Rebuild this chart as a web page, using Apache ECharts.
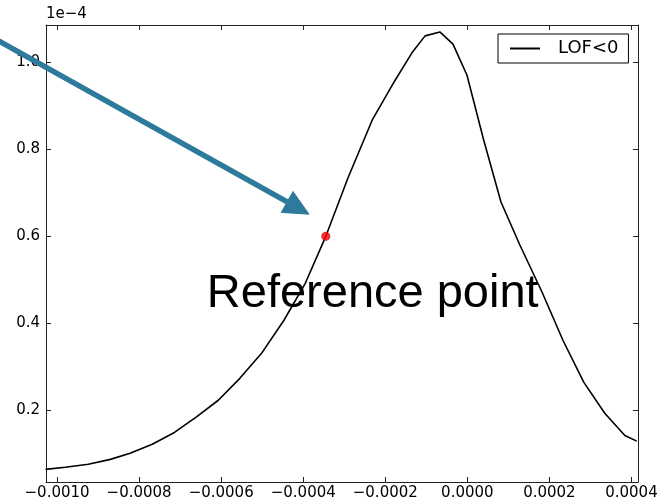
<!DOCTYPE html>
<html>
<head>
<meta charset="utf-8">
<script src="https://cdn.jsdelivr.net/npm/echarts@6/dist/echarts.min.js"></script>
<style>
  html, body { margin: 0; padding: 0; background: #fff; }
  #chart { width: 663px; height: 502px; }
</style>
</head>
<body>
<div id="chart"></div>
<script>
// Density curve (y in units of 1e-4)
const curveX = [-0.001028, -0.00098, -0.000924, -0.00087, -0.000822, -0.000768, -0.000714,
  -0.000661, -0.000607, -0.000554, -0.0005, -0.000447, -0.000395, -0.000345, -0.000291,
  -0.000232, -0.000176, -0.000135, -0.000103, -0.000067, -0.000035, -0.000001, 0.00004,
  0.000082, 0.000128, 0.000182, 0.000233, 0.000284, 0.000335, 0.000384, 0.000413];
const curveY = [0.064, 0.069, 0.076, 0.087, 0.101, 0.122, 0.149,
  0.184, 0.223, 0.274, 0.333, 0.407, 0.492, 0.6, 0.734,
  0.867, 0.959, 1.022, 1.061, 1.07, 1.042, 0.971, 0.821,
  0.679, 0.58, 0.472, 0.361, 0.264, 0.193, 0.142, 0.129];

const refPoint = [-0.000345, 0.6];
const seriesName = 'LOF<0';
const noteText = 'Reference point';
const noteAnchor = [-0.000635, 0.43];
const arrowTail = [-0.001162, 1.06];
const arrowTip = [-0.000386, 0.651];
const offsetText = '1e\u22124';

const xTicks = [-0.0010, -0.0008, -0.0006, -0.0004, -0.0002, 0.0000, 0.0002, 0.0004];
const yTicks = [0.2, 0.4, 0.6, 0.8, 1.0];
const xRange = [-0.001027, 0.000416];
const yRange = [0.035, 1.086];

const AXIS_COLOR = '#222';
const FONT = 'DejaVu Sans';

function fmtX(v) {
  return (v < 0 ? '\u2212' : '') + Math.abs(v).toFixed(4);
}

function xAxisCfg(pos, labels) {
  return {
    type: 'value', position: pos, min: xRange[0], max: xRange[1],
    axisLine: { onZero: false, lineStyle: { color: AXIS_COLOR, width: 1 } },
    axisTick: { inside: true, length: 5, customValues: xTicks, lineStyle: { color: AXIS_COLOR } },
    axisLabel: labels ? { customValues: xTicks, formatter: fmtX, color: '#000',
      fontFamily: FONT, fontSize: 15, margin: 4 } : { show: false },
    splitLine: { show: false }
  };
}
function yAxisCfg(pos, labels) {
  return {
    type: 'value', position: pos, min: yRange[0], max: yRange[1],
    axisLine: { onZero: false, lineStyle: { color: AXIS_COLOR, width: 1 } },
    axisTick: { inside: true, length: 5, customValues: yTicks, lineStyle: { color: AXIS_COLOR } },
    axisLabel: labels ? { customValues: yTicks, formatter: v => v.toFixed(1), color: '#000',
      fontFamily: FONT, fontSize: 15, margin: 6 } : { show: false },
    splitLine: { show: false }
  };
}

const chart = echarts.init(document.getElementById('chart'), null, { renderer: 'canvas' });

const option = {
  animation: false,
  backgroundColor: '#fff',
  grid: { left: 46, right: 25, top: 25, bottom: 20, containLabel: false },
  xAxis: [xAxisCfg('bottom', true), xAxisCfg('top', false)],
  yAxis: [yAxisCfg('left', true), yAxisCfg('right', false)],
  legend: {
    left: 498, top: 34,
    data: [{ name: seriesName, icon: 'rect' }],
    itemWidth: 30, itemHeight: 2,
    borderColor: '#000', borderWidth: 1, borderRadius: 0,
    padding: [5, 10, 5, 12],
    textStyle: { fontFamily: FONT, fontSize: 18, color: '#000', padding: [0, 0, 0, 13], lineHeight: 19 }
  },
  series: [
    {
      name: seriesName, type: 'line', xAxisIndex: 0, yAxisIndex: 0,
      data: curveX.map((x, i) => [x, curveY[i]]),
      showSymbol: false, symbol: 'none',
      lineStyle: { color: '#000', width: 1.6 },
      itemStyle: { color: '#000' },
      z: 3
    },
    {
      type: 'scatter', xAxisIndex: 0, yAxisIndex: 0,
      data: [refPoint], symbolSize: 8.5,
      itemStyle: { color: '#ff0000', borderColor: '#800', borderWidth: 0.5 },
      z: 4
    }
  ]
};
chart.setOption(option);

// Annotation: offset label, text and arrow placed from data coordinates
const toPx = p => chart.convertToPixel({ xAxisIndex: 0, yAxisIndex: 0 }, p);
const tail = toPx(arrowTail);
const tip = toPx(arrowTip);
const dx = tip[0] - tail[0], dy = tip[1] - tail[1];
const len = Math.sqrt(dx * dx + dy * dy);
const ux = dx / len, uy = dy / len;
const headLen = 25, headHalf = 12;
const base = [tip[0] - headLen * ux, tip[1] - headLen * uy];
const nx = -uy, ny = ux;
const ARROW_COLOR = '#2d7a9c';
const NOTE_SIZE = 47;
const note = toPx(noteAnchor);
const plotTop = chart.convertToPixel({ yAxisIndex: 0 }, yRange[1]);
const plotLeft = chart.convertToPixel({ xAxisIndex: 0 }, xRange[0]);

chart.setOption({
  graphic: [
    {
      type: 'text', z: 1,
      style: { text: noteText, x: note[0], y: note[1] - 0.35 * NOTE_SIZE, fill: '#000',
        font: NOTE_SIZE + 'px "Liberation Sans", Arial, sans-serif', textAlign: 'left', textVerticalAlign: 'middle' }
    },
    {
      type: 'text', z: 10,
      style: { text: offsetText, x: plotLeft, y: plotTop - 11, fill: '#000',
        font: '15px "DejaVu Sans"', textAlign: 'left', textVerticalAlign: 'middle' }
    },
    {
      type: 'line', z: 20,
      shape: { x1: tail[0], y1: tail[1], x2: base[0], y2: base[1] },
      style: { stroke: ARROW_COLOR, lineWidth: 5.5 }
    },
    {
      type: 'polygon', z: 20,
      shape: { points: [tip, [base[0] + headHalf * nx, base[1] + headHalf * ny],
        [base[0] - headHalf * nx, base[1] - headHalf * ny]] },
      style: { fill: ARROW_COLOR, stroke: ARROW_COLOR, lineWidth: 1 }
    }
  ]
});
</script>
</body>
</html>
